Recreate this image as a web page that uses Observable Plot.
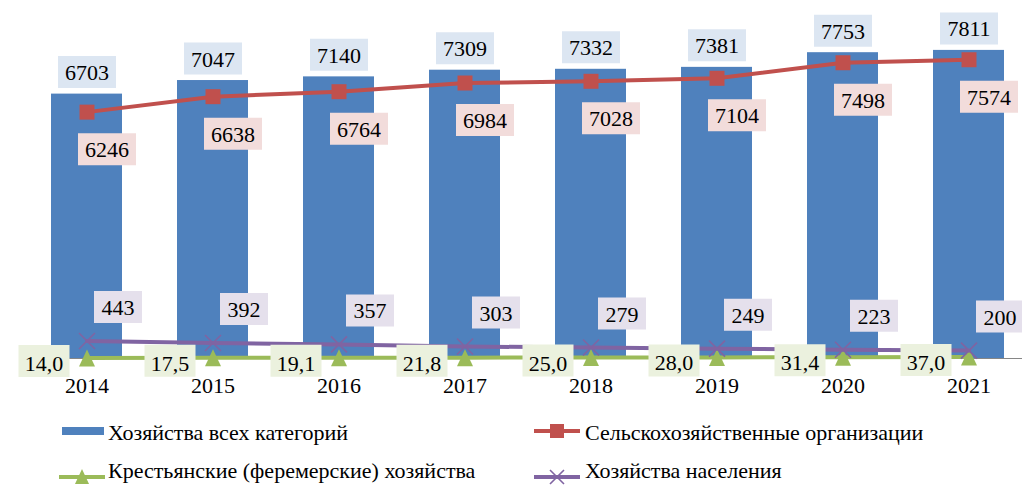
<!DOCTYPE html>
<html>
<head>
<meta charset="utf-8">
<script src="https://cdn.jsdelivr.net/npm/d3@7"></script>
<script src="https://cdn.jsdelivr.net/npm/@observablehq/plot@0.6"></script>
<style>
  html, body { margin: 0; padding: 0; background: #fff; overflow: hidden; }
  #wrap { position: relative; width: 1022px; height: 489px; overflow: hidden; font-family: 'Liberation Serif', serif; }
  #wrap > svg { display: block; }
  #wrap text { font-family: 'Liberation Serif', serif; }
</style>
</head>
<body>
<div id="wrap"></div>
<script>
// ---- data ----
const years = ["2014", "2015", "2016", "2017", "2018", "2019", "2020", "2021"];
const allCategories = [6703, 7047, 7140, 7309, 7332, 7381, 7753, 7811];
const agriOrgs = [6246, 6638, 6764, 6984, 7028, 7104, 7498, 7574];
const farms = [14.0, 17.5, 19.1, 21.8, 25.0, 28.0, 31.4, 37.0];
const households = [443, 392, 357, 303, 279, 249, 223, 200];
const seriesNames = [
  "Хозяйства всех категорий",
  "Сельскохозяйственные организации",
  "Крестьянские (феремерские) хозяйства",
  "Хозяйства населения"
];

const rows = years.map((year, i) => ({
  year, all: allCategories[i], org: agriOrgs[i], farm: farms[i], hh: households[i]
}));

const C = { blue: "#4F81BD", red: "#C0504D", green: "#9BBB59", purple: "#8064A2" };
const BG = { blue: "#DCE6F2", red: "#F2DCDB", green: "#EBF1DE", purple: "#E5E0EC" };
const FONT = "'Liberation Serif', serif";
const FS = 22;

const fmtComma = d => d3.format(".1f")(d).replace(".", ",");
const rectSym = (w, h) => ({ draw(ctx) { ctx.rect(-w / 2, -h / 2, w, h); } });
const triSym = (w, h) => ({ draw(ctx) { ctx.moveTo(0, -h / 2); ctx.lineTo(w / 2, h / 2); ctx.lineTo(-w / 2, h / 2); ctx.closePath(); } });
const xSym = (s) => ({ draw(ctx) { ctx.moveTo(-s / 2, -s / 2); ctx.lineTo(s / 2, s / 2); ctx.moveTo(s / 2, -s / 2); ctx.lineTo(-s / 2, s / 2); } });

function label(field, text, bg, w, dx, dy, tdy = 1) {
  return [
    Plot.dot(rows, { x: "year", y: field, symbol: rectSym(w, 32), r: 5, fill: bg, stroke: null, dx, dy }),
    Plot.text(rows, { x: "year", y: field, text, dx, dy: dy + tdy, fill: "black", fontSize: FS, fontFamily: FONT })
  ];
}

const chart = Plot.plot({
  width: 1022,
  height: 405,
  marginTop: 3,
  marginBottom: 47,
  marginLeft: 20,
  marginRight: 0,
  style: { fontFamily: FONT, fontSize: FS + "px", color: "black", background: "white", overflow: "visible" },
  x: { type: "band", domain: years, range: [20.6, 1035.5], paddingInner: 0.433, paddingOuter: 0.2165, label: null },
  y: { domain: [0, 9000], axis: null },
  marks: [
    Plot.barY(rows, { x: "year", y: "all", fill: C.blue }),
    Plot.ruleY([0], { stroke: "#868686", strokeWidth: 1.2 }),
    Plot.axisX({ tickSize: 0, tickPadding: 19, fontSize: FS, fontFamily: FONT, fill: "black" }),
    // bar labels
    ...label("all", d => String(d.all), BG.blue, 58, 0, -22),
    // agricultural organizations
    Plot.line(rows, { x: "year", y: "org", stroke: C.red, strokeWidth: 4 }),
    Plot.dot(rows, { x: "year", y: "org", symbol: rectSym(15, 15), r: 5, fill: C.red, stroke: null }),
    // farms
    Plot.line(rows, { x: "year", y: "farm", stroke: C.green, strokeWidth: 4 }),
    Plot.dot(rows, { x: "year", y: "farm", symbol: triSym(16, 17), r: 5, fill: C.green, stroke: null }),
    // households
    Plot.line(rows, { x: "year", y: "hh", stroke: C.purple, strokeWidth: 4 }),
    Plot.dot(rows, { x: "year", y: "hh", symbol: xSym(16), r: 5, fill: "none", stroke: C.purple, strokeWidth: 1.6 }),
    // labels
    ...label("org", d => String(d.org), BG.red, 58, 20, 37),
    ...label("hh", d => String(d.hh), BG.purple, 48, 31, -34),
    ...label("farm", d => fmtComma(d.farm), BG.green, 51, -43, 3, 3)
  ]
});

const wrap = document.getElementById("wrap");
wrap.appendChild(chart);

// ---- legend ----
const leg = d3.select(wrap).append("svg")
  .attr("width", 1022).attr("height", 489)
  .style("position", "absolute").style("left", "0px").style("top", "0px")
  .style("pointer-events", "none");

function legendText(x, y, t) {
  leg.append("text").attr("x", x).attr("y", y).text(t)
    .attr("font-family", FONT).attr("font-size", FS).attr("fill", "black");
}
// row 1
leg.append("rect").attr("x", 62).attr("y", 427).attr("width", 42).attr("height", 8).attr("fill", C.blue);
legendText(108, 440, seriesNames[0]);
leg.append("line").attr("x1", 534).attr("x2", 580).attr("y1", 431).attr("y2", 431).attr("stroke", C.red).attr("stroke-width", 4);
leg.append("rect").attr("x", 550).attr("y", 424).attr("width", 14).attr("height", 14).attr("fill", C.red);
legendText(585, 440, seriesNames[1]);
// row 2
leg.append("line").attr("x1", 59).attr("x2", 105).attr("y1", 477).attr("y2", 477).attr("stroke", C.green).attr("stroke-width", 4);
leg.append("path").attr("d", "M82,469L89,484L75,484Z").attr("fill", C.green);
legendText(108, 478, seriesNames[2]);
leg.append("line").attr("x1", 534).attr("x2", 580).attr("y1", 477).attr("y2", 477).attr("stroke", C.purple).attr("stroke-width", 4);
leg.append("path").attr("d", "M550,470L564,484M564,470L550,484").attr("stroke", C.purple).attr("stroke-width", 1.6);
legendText(585, 478, seriesNames[3]);
</script>
</body>
</html>
